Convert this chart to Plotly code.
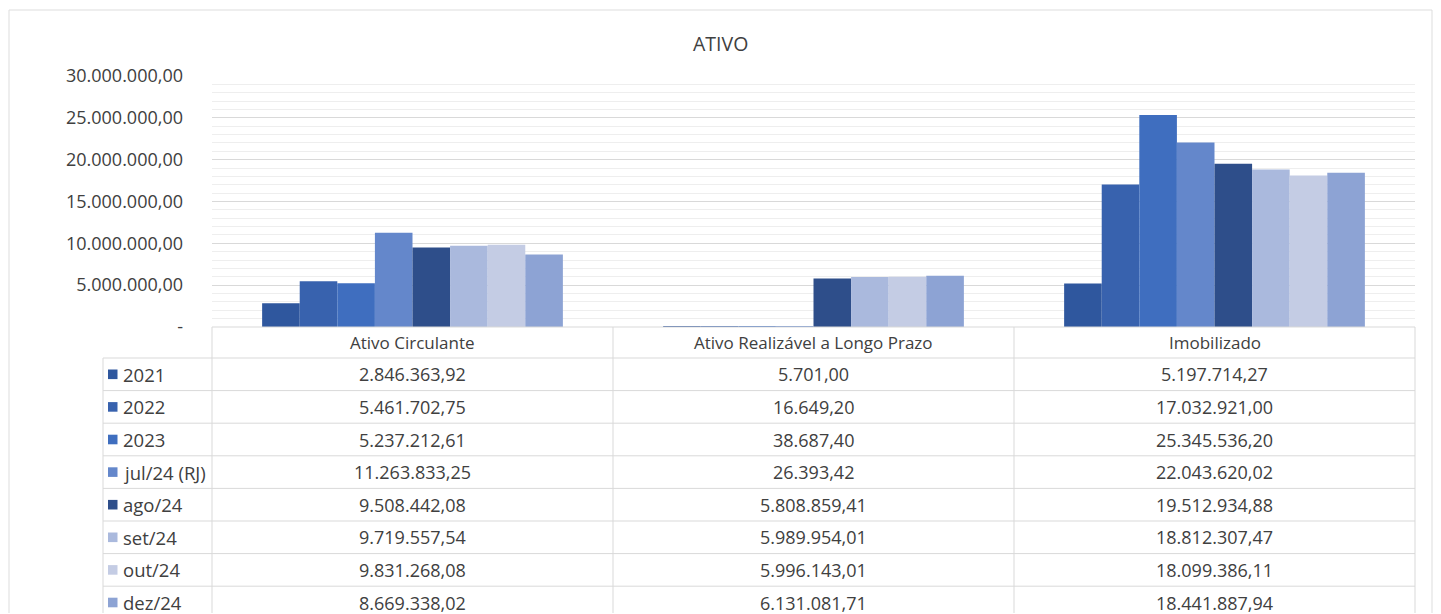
import plotly.graph_objects as go

# ---------------- data ----------------
categories = ["Ativo Circulante", "Ativo Realizável a Longo Prazo", "Imobilizado"]
series_names = ["2021", "2022", "2023", "jul/24 (RJ)", "ago/24", "set/24", "out/24", "dez/24"]

v_2021 = [2846363.92, 5701.00, 5197714.27]
v_2022 = [5461702.75, 16649.20, 17032921.00]
v_2023 = [5237212.61, 38687.40, 25345536.20]
v_jul24 = [11263833.25, 26393.42, 22043620.02]
v_ago24 = [9508442.08, 5808859.41, 19512934.88]
v_set24 = [9719557.54, 5989954.01, 18812307.47]
v_out24 = [9831268.08, 5996143.01, 18099386.11]
v_dez24 = [8669338.02, 6131081.71, 18441887.94]

series_values = [v_2021, v_2022, v_2023, v_jul24, v_ago24, v_set24, v_out24, v_dez24]

tick_vals = [0, 5000000, 10000000, 15000000, 20000000, 25000000, 30000000]
tick_text = ["-", "5.000.000,00", "10.000.000,00", "15.000.000,00",
             "20.000.000,00", "25.000.000,00", "30.000.000,00"]

colors = ["#2F579E", "#3862AE", "#3F6EBF", "#6487CB",
          "#2E4E8A", "#AAB9DD", "#C4CCE4", "#8DA3D4"]

# ---------------- layout constants (pixels) ----------------
W, H = 1441, 614
PLOT_L, PLOT_R = 212, 1415
PLOT_T, PLOT_B = 76, 327
TABLE_L = 103
HEADER_B = 358
ROW_H = 32.6
COL_EDGES = [212, 613, 1014, 1415]
FONT = "Open Sans"
TXT = "#404040"
LINE = "#D9D9D9"


def px(x):
    return x / W


def py(y):
    return 1 - y / H


def fmt(v):
    s = f"{v:,.2f}"
    return s.replace(",", "#").replace(".", ",").replace("#", ".")


fig = go.Figure()
for name, vals, col in zip(series_names, series_values, colors):
    fig.add_trace(go.Bar(name=name, x=categories, y=vals,
                         marker=dict(color=col, line=dict(width=0)),
                         showlegend=False))

shapes = []
annotations = []


def hline(x0, x1, y, color=LINE):
    shapes.append(dict(type="line", xref="paper", yref="paper",
                       x0=px(x0), x1=px(x1), y0=py(y), y1=py(y),
                       line=dict(color=color, width=1)))


def vline(x, y0, y1, color=LINE):
    y1 = min(y1, H - 1)
    shapes.append(dict(type="line", xref="paper", yref="paper",
                       x0=px(x), x1=px(x), y0=py(y0), y1=py(y1),
                       line=dict(color=color, width=1)))


# outer chart border (continues past the bottom edge)
hline(9, 1432, 10, "#DDDDDD")
vline(9, 10, H, "#DDDDDD")
vline(1432, 10, H, "#DDDDDD")

# header row
hline(PLOT_L, PLOT_R, PLOT_B)
for i, c in enumerate(categories):
    xc = (COL_EDGES[i] + COL_EDGES[i + 1]) / 2
    annotations.append(dict(xref="paper", yref="paper", x=px(xc),
                            y=py((PLOT_B + HEADER_B) / 2), text=c, showarrow=False,
                            xanchor="center", yanchor="middle",
                            font=dict(family=FONT, size=17, color=TXT)))

n_rows = len(series_names)
table_bottom = HEADER_B + ROW_H * n_rows
for r in range(n_rows + 1):
    y = HEADER_B + ROW_H * r
    if y < H:
        hline(TABLE_L, PLOT_R, y)
vline(TABLE_L, HEADER_B, table_bottom)
for xe in COL_EDGES:
    vline(xe, PLOT_B, table_bottom)

# table body
for r, (name, vals, col) in enumerate(zip(series_names, series_values, colors)):
    yc = HEADER_B + ROW_H * (r + 0.5)
    shapes.append(dict(type="rect", xref="paper", yref="paper",
                       x0=px(108), x1=px(117.5), y0=py(yc + 4.8), y1=py(yc - 4.8),
                       fillcolor=col, line=dict(width=0)))
    annotations.append(dict(xref="paper", yref="paper", x=px(121), y=py(yc),
                            text=name, showarrow=False, xanchor="left", yanchor="middle",
                            font=dict(family=FONT, size=18.5, color=TXT)))
    for i, v in enumerate(vals):
        xc = (COL_EDGES[i] + COL_EDGES[i + 1]) / 2
        annotations.append(dict(xref="paper", yref="paper", x=px(xc), y=py(yc),
                                text=fmt(v), showarrow=False,
                                xanchor="center", yanchor="middle",
                                font=dict(family=FONT, size=18, color=TXT)))

# title
annotations.append(dict(xref="paper", yref="paper", x=px(720), y=py(43),
                        text="ATIVO", showarrow=False, xanchor="center", yanchor="middle",
                        font=dict(family=FONT, size=19.5, color="#404040")))

fig.update_layout(
    width=W, height=H, autosize=False,
    margin=dict(l=0, r=0, t=0, b=0, pad=0, autoexpand=False),
    paper_bgcolor="white", plot_bgcolor="white",
    barmode="group", bargap=0.25, bargroupgap=0,
    font=dict(family=FONT, color=TXT),
    xaxis=dict(domain=[px(PLOT_L), px(PLOT_R)], showticklabels=False, automargin=False,
               showline=False, showgrid=False, zeroline=False),
    yaxis=dict(domain=[py(PLOT_B), py(PLOT_T)], range=[0, 30000000], automargin=False,
               tickmode="array", tickvals=tick_vals, ticktext=tick_text,
               tickfont=dict(family=FONT, size=18, color="#404040"),
               showgrid=True, gridcolor="#D9D9D9", gridwidth=1,
               zeroline=False, showline=False, ticks="",
               ticklabelstandoff=28,
               minor=dict(tick0=0, dtick=1000000, showgrid=True,
                          gridcolor="#EEEEEE", gridwidth=1)),
    shapes=shapes,
    annotations=annotations,
)

fig.write_html(
    "out.html",
    config={"displayModeBar": False},
    post_script=("document.documentElement.style.overflow='hidden';"
                 "document.body.style.margin='0';"
                 "document.body.style.overflow='hidden';"),
)
